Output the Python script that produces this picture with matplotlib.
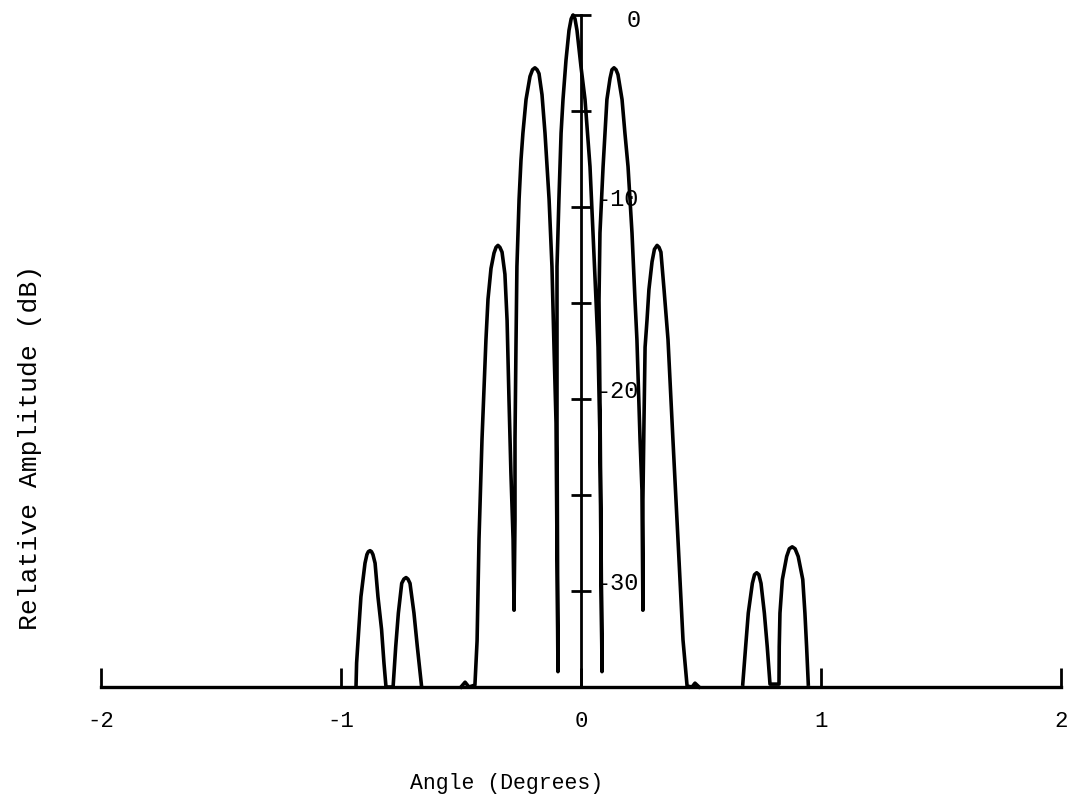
import matplotlib
matplotlib.use("Agg")
import matplotlib.pyplot as plt

# central trace: main beam + first two sidelobes each side (angle in deg, level in dB)
main_x = [-0.500, -0.483, -0.467, -0.442, -0.433, -0.425, -0.4125, -0.396, -0.3875,
          -0.375, -0.3625, -0.354, -0.346, -0.338, -0.329, -0.317, -0.308, -0.300,
          -0.292, -0.283, -0.279, -0.275, -0.275, -0.271, -0.267, -0.258, -0.250,
          -0.242, -0.229, -0.2125, -0.202, -0.192, -0.183, -0.175, -0.1625, -0.150,
          -0.133, -0.121, -0.1125, -0.104, -0.100, -0.096, -0.098, -0.100, -0.100,
          -0.100, -0.092, -0.083, -0.075, -0.0625, -0.050, -0.041, -0.033, -0.025,
          -0.0167, 0.0, 0.0167, 0.0375, 0.050, 0.0625, 0.071, 0.079, 0.083, 0.0875,
          0.083, 0.079, 0.075, 0.079, 0.092, 0.108, 0.121, 0.129, 0.1375, 0.146,
          0.154, 0.171, 0.183, 0.196, 0.2125, 0.225, 0.233, 0.246, 0.254, 0.258,
          0.258, 0.2625, 0.267, 0.275, 0.283, 0.296, 0.306, 0.317, 0.325, 0.333,
          0.346, 0.3625, 0.383, 0.404, 0.425, 0.442, 0.4625, 0.475, 0.492]
main_db = [-35.0, -34.75, -35.0, -34.9, -32.6, -27.3, -22.1, -16.9, -14.8,
           -13.2, -12.4, -12.1, -12.0, -12.1, -12.35, -13.5, -15.9, -20.05,
           -23.85, -27.3, -31.0, -26.3, -22.1, -17.3, -13.1, -9.6, -7.55,
           -6.15, -4.4, -3.2, -2.85, -2.75, -2.85, -3.05, -4.15, -6.15,
           -9.6, -13.1, -17.3, -21.25, -27.9, -34.2, -27.3, -21.25, -17.3,
           -13.1, -9.6, -6.15, -4.4, -2.35, -0.8, -0.2, 0.0, -0.2,
           -0.8, -2.7, -4.4, -7.9, -11.35, -14.85, -17.3, -22.1, -27.9, -34.2,
           -26.3, -20.05, -14.85, -11.35, -7.9, -4.4, -3.3, -2.85, -2.75, -2.85,
           -3.1, -4.4, -6.15, -7.9, -11.35, -14.85, -16.9, -22.1, -24.75, -31.0,
           -25.25, -21.1, -17.3, -15.9, -14.3, -12.85, -12.2, -12.0, -12.1, -12.35,
           -14.3, -16.9, -22.1, -27.3, -32.55, -34.95, -35.0, -34.8, -35.0]

# far sidelobe pairs
left_far_x = [-0.9375, -0.935, -0.926, -0.917, -0.900, -0.892, -0.886, -0.879, -0.873,
              -0.867, -0.858, -0.846, -0.831, -0.821, -0.8125, -0.783, -0.772, -0.761,
              -0.747, -0.738, -0.729, -0.721, -0.7125, -0.696, -0.682, -0.664]
left_far_db = [-35.0, -33.75, -32.0, -30.3, -28.55, -28.1, -27.95, -27.9, -27.95,
               -28.1, -28.55, -30.3, -32.0, -33.75, -35.0, -35.0, -32.9, -31.15,
               -29.6, -29.38, -29.3, -29.38, -29.6, -31.15, -32.9, -35.0]
right_far_x = [0.674, 0.686, 0.697, 0.714, 0.723, 0.732, 0.741, 0.750, 0.764, 0.776,
               0.7875, 0.825, 0.826, 0.829, 0.839, 0.857, 0.868, 0.880, 0.892, 0.905,
               0.924, 0.933, 0.940, 0.947]
right_far_db = [-34.85, -32.9, -31.15, -29.6, -29.15, -29.05, -29.15, -29.6, -31.15,
                -32.9, -34.85, -34.85, -32.9, -31.15, -29.4, -28.2, -27.8, -27.7,
                -27.8, -28.2, -29.4, -31.15, -32.9, -34.85]

x_ticks = [-2, -1, 0, 1, 2]
x_tick_labels = ['-2', '-1', '0', '1', '2']
y_ticks = [0, -5, -10, -15, -20, -25, -30]
y_label_values = [0, -10, -20, -30]
y_label_texts = ['0', '-10', '-20', '-30']

FONT = ['Liberation Mono', 'DejaVu Sans Mono']
LW = 2.6

fig = plt.figure(figsize=(10.72, 7.99), dpi=100)
ax = fig.add_axes([0, 0, 1, 1])
ax.set_xlim(-581 / 240, (1072 - 581) / 240)
ax.set_ylim(-784 / 19.2, 15 / 19.2)

ax.plot(main_x, main_db, color='black', lw=LW, solid_joinstyle='round')
ax.plot(left_far_x, left_far_db, color='black', lw=LW, solid_joinstyle='round')
ax.plot(right_far_x, right_far_db, color='black', lw=LW, solid_joinstyle='round')

for side in ['top', 'right']:
    ax.spines[side].set_visible(False)
ax.spines['left'].set_position(('data', 0))
ax.spines['left'].set_bounds(-35, 0)
ax.spines['bottom'].set_position(('data', -35))
ax.spines['bottom'].set_bounds(-2, 2)
ax.spines['left'].set_linewidth(2)
ax.spines['bottom'].set_linewidth(2.4)

ax.set_xticks(x_ticks)
ax.set_xticklabels(x_tick_labels, family=FONT)
ax.tick_params(axis='x', direction='in', length=14, width=2, pad=17, labelsize=16)
ax.set_yticks(y_ticks)
ax.tick_params(axis='y', direction='inout', length=14, width=2, labelleft=False)

for v, t in zip(y_label_values, y_label_texts):
    if v == 0:
        ax.text(0.19, v - 0.3, t, ha='left', va='center', fontsize=17, family=FONT)
    else:
        ax.text(0.065, v + 0.4, t, ha='left', va='center', fontsize=17, family=FONT)

fig.text(507 / 1072, 1 - 783 / 799, 'Angle (Degrees)', ha='center', va='center',
         fontsize=15.5, family=FONT)
fig.text(30 / 1072, 1 - 447 / 799, 'Relative Amplitude (dB)', ha='center', va='center',
         rotation=90, fontsize=19, family=FONT)

fig.savefig('out.png', dpi=100, facecolor='white')
